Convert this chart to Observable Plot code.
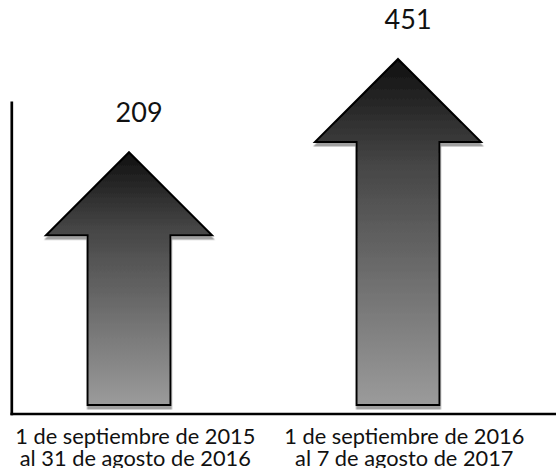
<!DOCTYPE html>
<html><head><meta charset="utf-8">
<script src="https://cdn.jsdelivr.net/npm/d3@7"></script>
<script src="https://cdn.jsdelivr.net/npm/@observablehq/plot@0.6"></script>
<style>body{margin:0;background:#fff;}</style>
</head><body><div id="chart"></div>
<script>
// Data
const periods = [
  "1 de septiembre de 2015\nal 31 de agosto de 2016",
  "1 de septiembre de 2016\nal 7 de agosto de 2017"
];
const values = [209, 451];
const valueLabels = ["209", "451"];
const yFloor = 26;

const data = periods.map((p, i) => ({period: p, value: values[i], label: valueLabels[i]}));

const HEAD_HALF = 83, SHAFT_HALF = 41.5, HEAD_H = 83;

function arrowMark(index, scales) {
  const x = scales.x, y = scales.y;
  const base = y(yFloor);
  const g = d3.create("svg:g");
  const defs = g.append("defs");
  const grad = defs.append("linearGradient").attr("id", "arrowGrad")
    .attr("x1", 0).attr("y1", 0).attr("x2", 0).attr("y2", 1);
  grad.append("stop").attr("offset", "0%").attr("stop-color", "#101010");
  grad.append("stop").attr("offset", "30%").attr("stop-color", "#454545");
  grad.append("stop").attr("offset", "100%").attr("stop-color", "#9b9b9b");
  const filt = defs.append("filter").attr("id", "arrowShadow")
    .attr("x", "-10%").attr("y", "-10%").attr("width", "120%").attr("height", "130%");
  filt.append("feDropShadow").attr("dx", 0.5).attr("dy", 3.5).attr("stdDeviation", 0.7)
    .attr("flood-color", "#a0a0a0").attr("flood-opacity", 1);
  g.selectAll("path").data(data).join("path")
    .attr("d", d => {
      const cx = x(d.period), top = y(d.value), hb = top + HEAD_H;
      return `M${cx},${top}L${cx + HEAD_HALF},${hb}L${cx + SHAFT_HALF},${hb}L${cx + SHAFT_HALF},${base}` +
             `L${cx - SHAFT_HALF},${base}L${cx - SHAFT_HALF},${hb}L${cx - HEAD_HALF},${hb}Z`;
    })
    .attr("fill", "url(#arrowGrad)")
    .attr("stroke", "#000")
    .attr("stroke-width", 2)
    .attr("stroke-linejoin", "miter")
    .attr("filter", "url(#arrowShadow)");
  return g.node();
}

const chart = Plot.plot({
  width: 556,
  height: 468,
  marginLeft: 11.3,
  marginRight: 0,
  marginTop: 102.3,
  marginBottom: 54.5,
  style: {fontFamily: "Lato, sans-serif", background: "#fff", overflow: "visible"},
  x: {type: "point", domain: periods, range: [129.2, 398.7], padding: 0, axis: null},
  y: {type: "log", domain: [yFloor, 451], range: [405, 59], axis: null},
  marks: [
    Plot.frame({anchor: "left", stroke: "#000", strokeWidth: 2.7}),
    Plot.frame({anchor: "bottom", stroke: "#000", strokeWidth: 2.7}),
    arrowMark,
    Plot.text(data, {x: "period", y: "value", text: "label", lineAnchor: "bottom",
      dx: 9.6, dy: -31, fontSize: 27, fill: "#111"}),
    Plot.text(data, {x: "period", text: "period", frameAnchor: "bottom", lineAnchor: "top",
      dx: 5.8, dy: 14.3, fontSize: 21.8, lineHeight: 1.0, fill: "#111"})
  ]
});
document.getElementById("chart").appendChild(chart);
</script>
</body></html>
